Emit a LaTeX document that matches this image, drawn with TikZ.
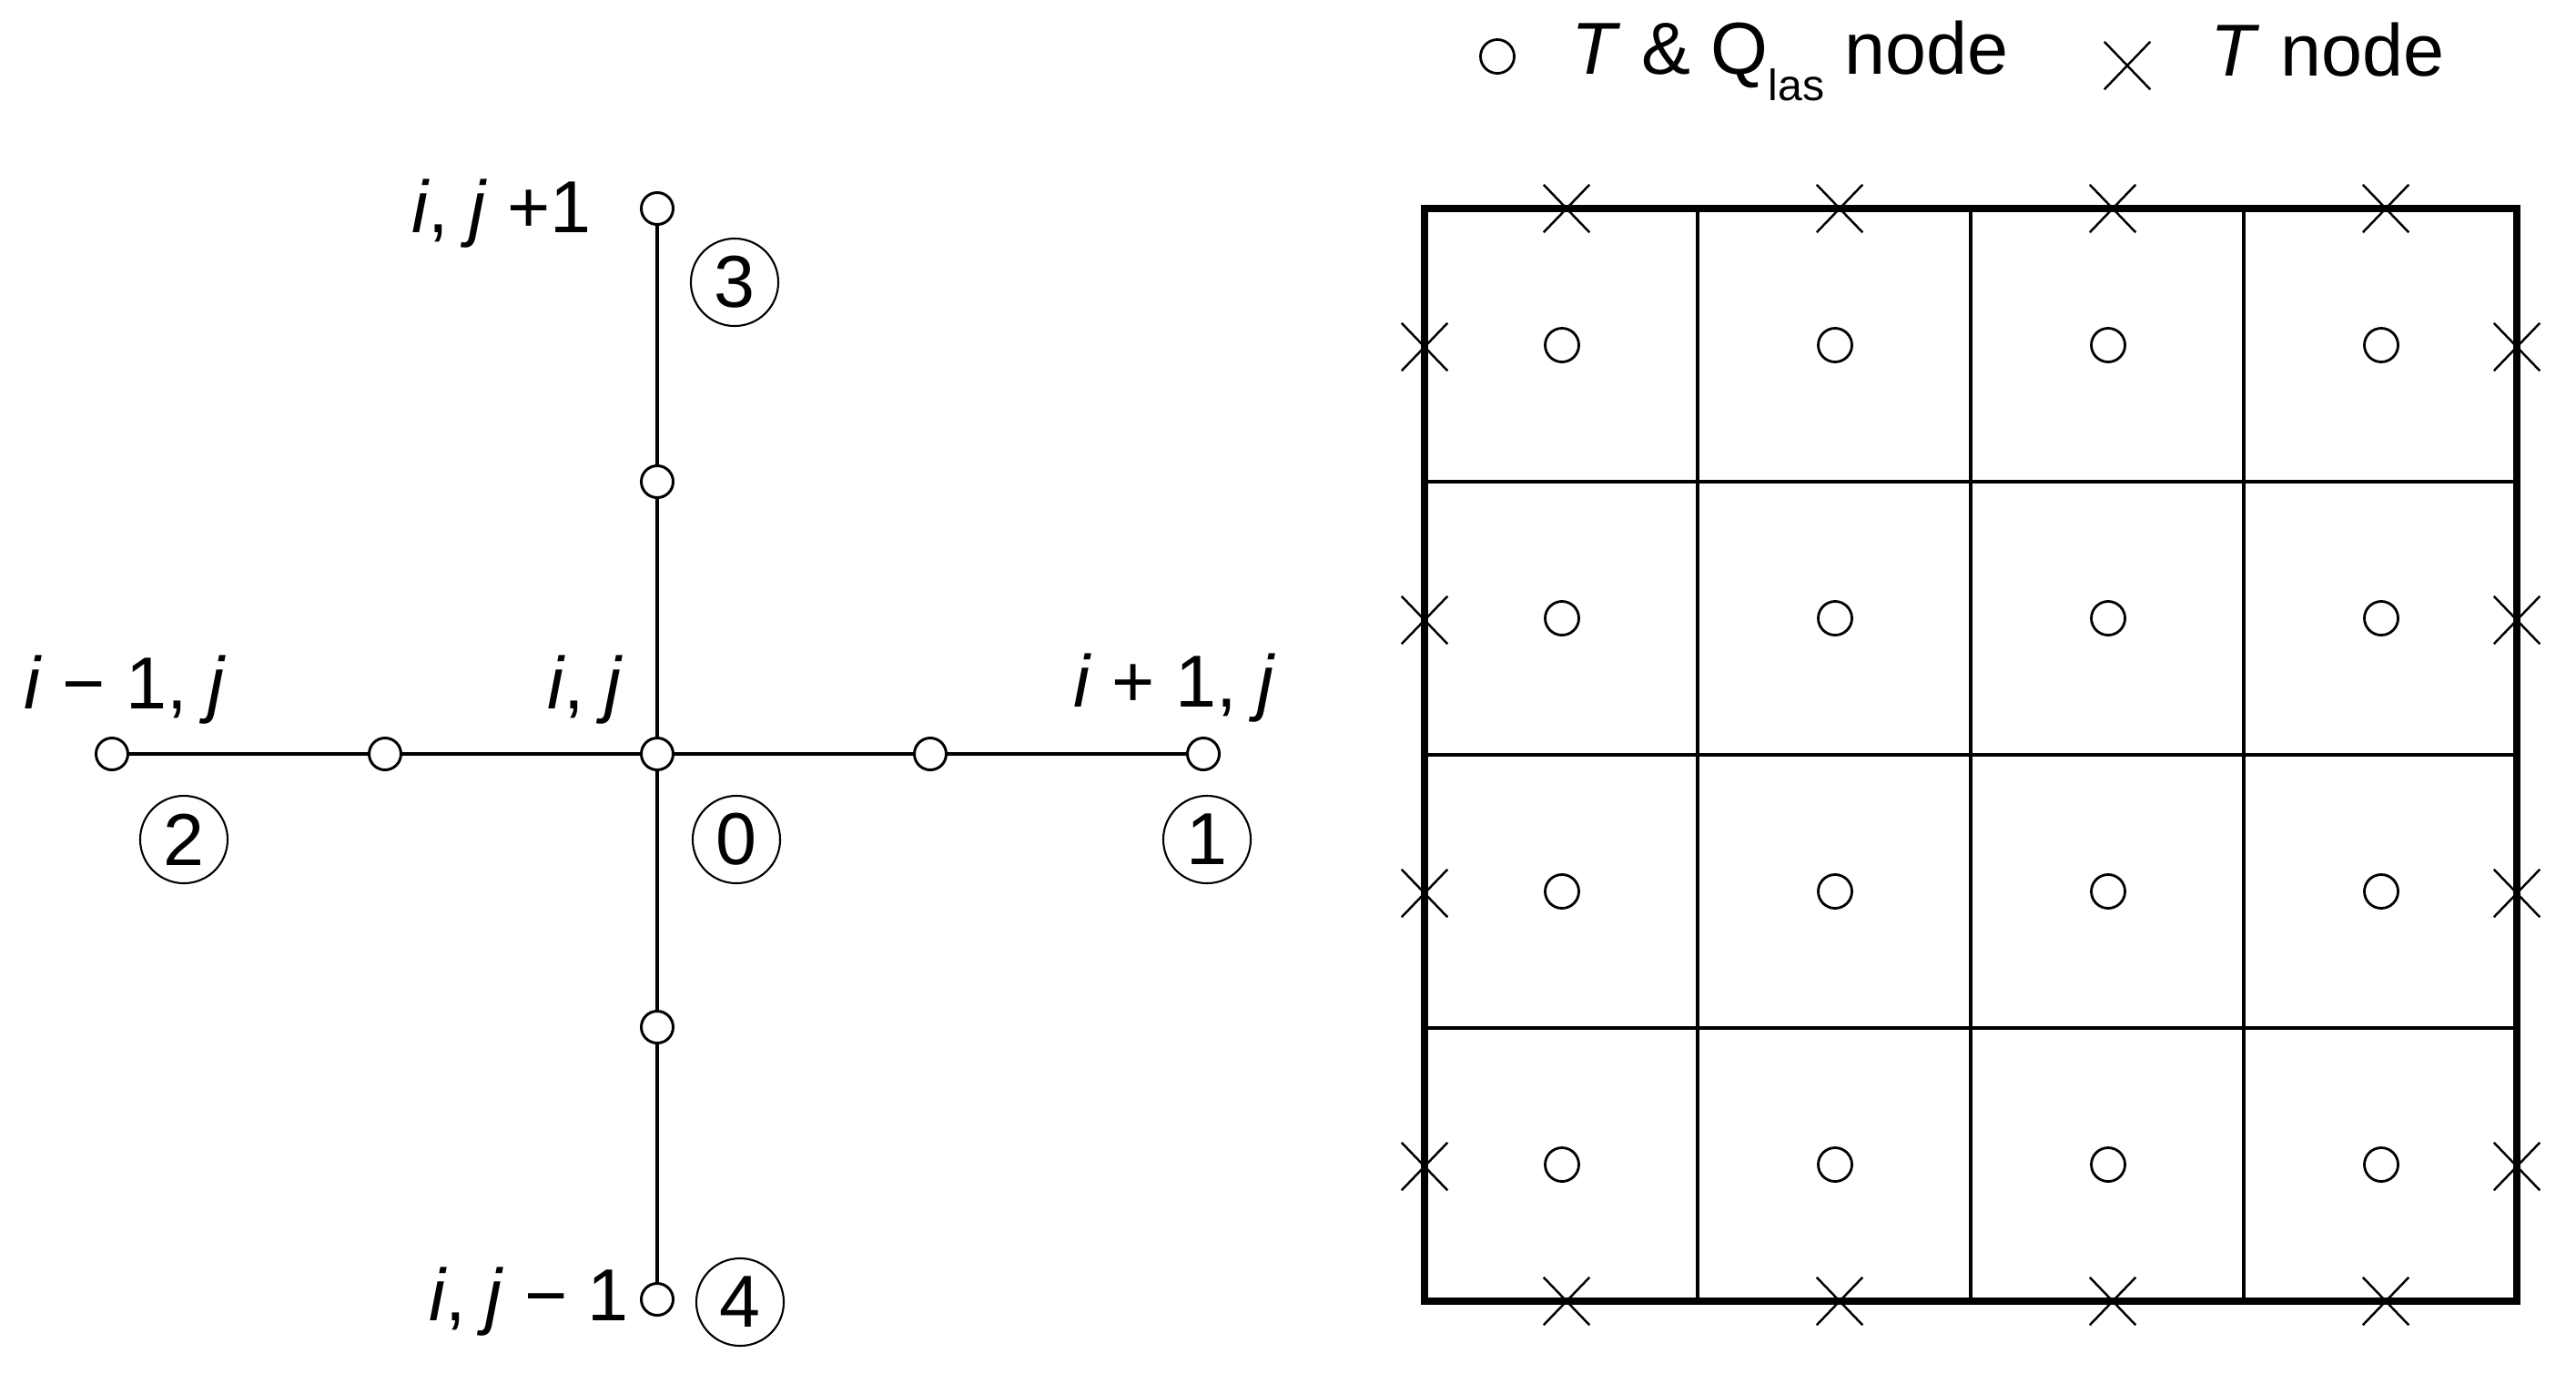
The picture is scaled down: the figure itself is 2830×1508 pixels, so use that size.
\documentclass[tikz,border=0pt]{standalone}
\usepackage{fontspec}
\setmainfont{Liberation Sans}
\usetikzlibrary{shapes.misc}
\begin{document}
\begin{tikzpicture}[x=0.01cm,y=-0.01cm,
  every node/.style={font=\fontsize{23}{27}\selectfont},
  pt/.style={circle,draw,fill=white,line width=0.85pt,inner sep=0pt,minimum size=0.35cm},
  num/.style={circle,draw,line width=0.6pt,inner sep=0pt,minimum size=0.96cm},
  lbl/.style={anchor=base,inner sep=0pt},
  arm/.style={line width=1.1pt},
  gc/.style={circle,draw,line width=0.8pt,inner sep=0pt,minimum size=0.37cm},
  gx/.style={cross out,draw,line width=0.7pt,inner sep=0pt,minimum width=0.48cm,minimum height=0.5cm},
  border/.style={line width=2.2pt},
  inner/.style={line width=1.0pt}
]
\fill[white] (0,0) rectangle (2830,1508);
\useasboundingbox (0,0) rectangle (2830,1508);

% ---------- left stencil ----------
\node[pt] (c)  at (722,828) {};
\node[pt] (w)  at (123,828) {};
\node[pt] (wm) at (423,828) {};
\node[pt] (em) at (1022,828) {};
\node[pt] (e)  at (1322,828) {};
\node[pt] (n)  at (722,229) {};
\node[pt] (nm) at (722,529) {};
\node[pt] (sm) at (722,1128) {};
\node[pt] (s)  at (722,1427) {};

\draw[arm] (w) -- (wm) -- (c) -- (em) -- (e);
\draw[arm] (n) -- (nm) -- (c) -- (sm) -- (s);

\node[lbl] (lw) at (137,778) {\textit{i} − 1, \textit{j}};
\node[lbl] (lc) at (643,778) {\textit{i}, \textit{j}};
\node[lbl] (le) at (1290,776) {\textit{i} + 1, \textit{j}};
\node[lbl] (ln) at (551,255) {\textit{i}, \textit{j} +1};
\node[lbl] (ls) at (581,1450) {\textit{i}, \textit{j} − 1};

\node[num] (k0) at (809,922) {0};
\node[num] (k1) at (1326,922) {1};
\node[num] (k2) at (202,922) {2};
\node[num] (k3) at (807,310) {3};
\node[num] (k4) at (813,1430) {4};

% ---------- legend ----------
\node[gc] (legc) at (1645,62) {};
\node[anchor=base west,inner sep=0pt] (legct) at (1726,81)
  {\textit{T} \& Q\raisebox{-0.29cm}{\fontsize{13.7}{14}\selectfont las} node};
\node[gx] (legx) at (2337,72) {};
\node[anchor=base west,inner sep=0pt] (legxt) at (2428,83) {\textit{T} node};

% ---------- grid ----------
\draw[inner] (1865,229) -- (1865,1429);
\draw[inner] (2165,229) -- (2165,1429);
\draw[inner] (2465,229) -- (2465,1429);
\draw[inner] (1565,529) -- (2765,529);
\draw[inner] (1565,829) -- (2765,829);
\draw[inner] (1565,1129) -- (2765,1129);
\draw[border] (1565,229) rectangle (2765,1429);

\foreach \k in {0,1,2,3}{
  \node[gx] (xt\k) at ({1721+300*\k},229) {};
  \node[gx] (xb\k) at ({1721+300*\k},1429) {};
  \node[gx] (xl\k) at (1565,{381+300*\k}) {};
  \node[gx] (xr\k) at (2765,{381+300*\k}) {};
  \foreach \m in {0,1,2,3}{
    \node[gc] (g\k\m) at ({1716+300*\k},{379+300*\m}) {};
  }
}
\end{tikzpicture}
\end{document}
